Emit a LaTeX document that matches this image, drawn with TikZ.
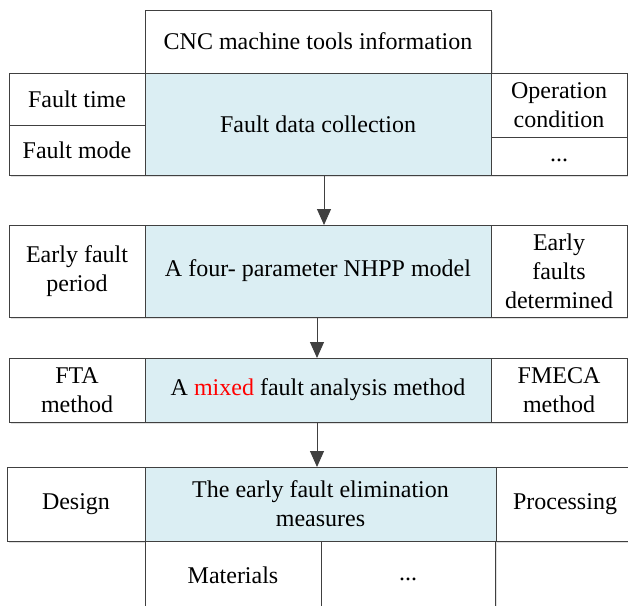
\documentclass[tikz,border=0pt]{standalone}
\usepackage{fontspec}
\setmainfont{Liberation Serif}
\usetikzlibrary{arrows.meta,backgrounds}
\definecolor{lblue}{RGB}{219,238,243}
\definecolor{edgegray}{RGB}{64,64,64}
\begin{document}
\begin{tikzpicture}[x=1pt,y=-1pt,
  cell/.style={draw=edgegray, line width=0.9pt, fill=white, inner sep=0pt, outer sep=0pt,
    anchor=north west, align=center, font=\fontsize{24}{29}\selectfont},
  core/.style={cell, fill=lblue},
  flow/.style={draw=edgegray, line width=1pt, -{Triangle[length=16pt,width=14pt]}},
  shade/.style={fill=black!12}]
\useasboundingbox (0,0) rectangle (628,605);
\clip (0,0) rectangle (628,605);
% row 1
\node[cell, minimum width=346pt, minimum height=63pt] (cnc) at (145,10) {CNC machine tools information};
\node[core, minimum width=346pt, minimum height=102pt] (fdc) at (145,73) {Fault data collection};
\node[cell, minimum width=136pt, minimum height=52pt] (ft) at (9,73) {Fault time};
\node[cell, minimum width=136pt, minimum height=50pt] (fm) at (9,125) {Fault mode};
\node[cell, minimum width=136pt, minimum height=64pt] (oc) at (491,73) {Operation\\condition};
\node[cell, minimum width=136pt, minimum height=38pt] (od) at (491,137) {\strut...};
% row 2
\node[cell, minimum width=136pt, minimum height=92pt] (l2) at (9,225) {Early fault\\period};
\node[core, minimum width=346pt, minimum height=92pt] (c2) at (145,225) {A four- parameter NHPP model};
\node[cell, minimum width=136pt, minimum height=92pt] (r2) at (491,225) {Early\\faults\\determined};
% row 3
\node[cell, minimum width=136pt, minimum height=64pt] (l3) at (9,358) {FTA\\method};
\node[core, minimum width=346pt, minimum height=64pt] (c3) at (145,358) {A \textcolor{red}{mixed} fault analysis method};
\node[cell, minimum width=136pt, minimum height=64pt] (r3) at (491,358) {FMECA\\method};
% row 4
\node[cell, minimum width=138pt, minimum height=74pt] (l4) at (7,467) {Design};
\node[core, minimum width=351pt, minimum height=74pt] (c4) at (145,467) {The early fault elimination\\measures};
\node[cell, minimum width=138pt, minimum height=74pt] (r4) at (496,467) {Processing};
% row 5
\node[cell, minimum width=176pt, minimum height=68pt] (mat) at (145,541) {Materials};
\node[cell, minimum width=174pt, minimum height=68pt] (md) at (321,541) {\strut...};
% connectors
\draw[flow] ([xshift=6pt]fdc.south) -- ([xshift=6pt]c2.north);
\draw[flow] ([xshift=-1pt]c2.south) -- ([xshift=-1pt]c3.north);
\draw[flow] ([xshift=-1pt]c3.south) -- ([xshift=-3.5pt]c4.north);
% shadows
\begin{scope}[on background layer]
\foreach \n in {cnc,fdc,ft,fm,oc,od,l2,c2,r2,l3,c3,r3,l4,c4,r4,mat,md}
  \fill[shade] ([shift={(2pt,-2pt)}]\n.north west) rectangle ([shift={(2pt,-2pt)}]\n.south east);
\end{scope}
\end{tikzpicture}
\end{document}
